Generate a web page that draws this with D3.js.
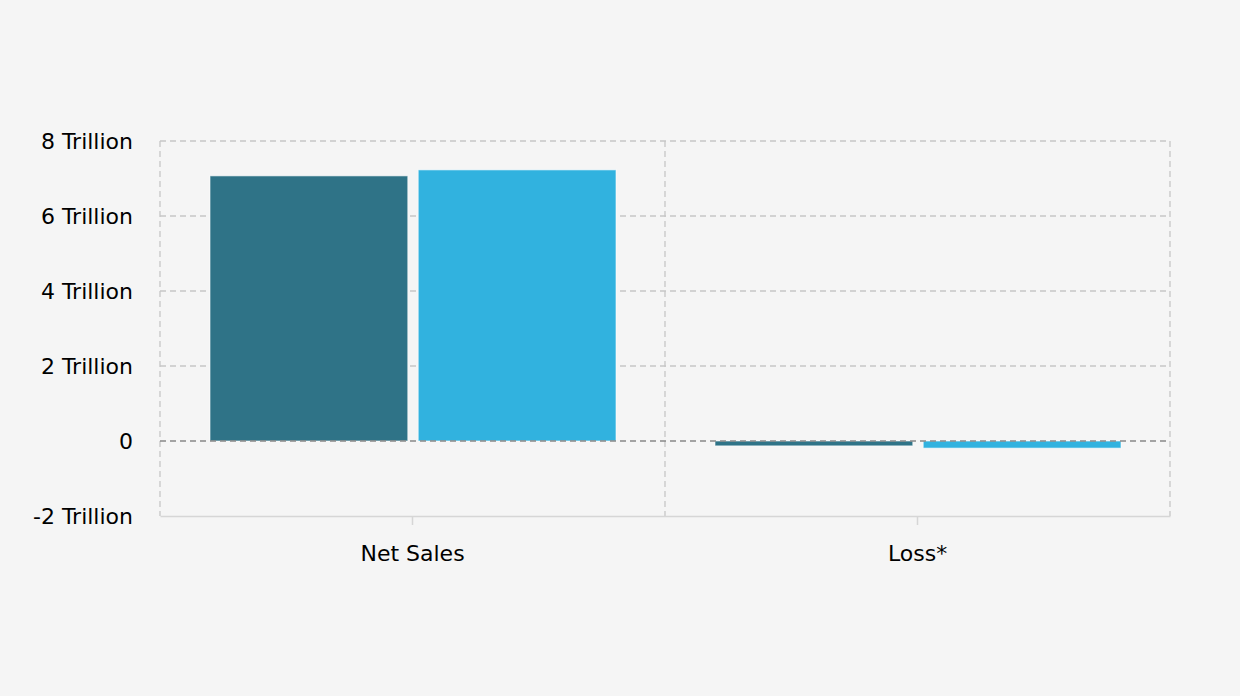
<!DOCTYPE html>
<html>
<head>
<meta charset="utf-8">
<script src="https://cdn.jsdelivr.net/npm/d3@7"></script>
<style>
  html, body { margin: 0; padding: 0; background: #f5f5f5; }
  svg { display: block; font-family: "DejaVu Sans", Verdana, sans-serif; }
</style>
</head>
<body>
<svg id="chart" width="1240" height="696"></svg>
<script>
// Data (values in trillions)
var categories = ['Net Sales', 'Loss*'];
var seriesNames = ['Previous', 'Current'];
var previousValues = [7.07, -0.13];
var currentValues = [7.23, -0.19];
var yTicks = [-2, 0, 2, 4, 6, 8];
var seriesColors = ['#2f7387', '#31b2df'];

var svg = d3.select('#chart');
var margin = { left: 160, right: 70, top: 141, bottom: 180 };
var width = 1240 - margin.left - margin.right;
var height = 696 - margin.top - margin.bottom;

var g = svg.append('g').attr('transform', 'translate(' + margin.left + ',' + margin.top + ')');

var x0 = d3.scaleBand().domain(categories).range([0, width]).padding(0);
var x1 = d3.scaleBand().domain(seriesNames).range([50, x0.bandwidth() - 49]).paddingInner(0.05);
var y = d3.scaleLinear().domain([-2, 8]).range([height, 0]);

function tickLabel(v) {
  return v === 0 ? '0' : v + ' Trillion';
}

// horizontal grid
g.append('g').selectAll('line').data(yTicks.filter(function(t) { return t !== -2 && t !== 0; }))
  .join('line')
  .attr('x1', 0).attr('x2', width)
  .attr('y1', function(d) { return y(d); }).attr('y2', function(d) { return y(d); })
  .attr('stroke', '#c6c6c6').attr('stroke-width', 1.3).attr('stroke-dasharray', '6,4');

// vertical grid at band edges
var edges = [0, x0.bandwidth(), width];
g.append('g').selectAll('line').data(edges).join('line')
  .attr('x1', function(d) { return d; }).attr('x2', function(d) { return d; })
  .attr('y1', 0).attr('y2', height)
  .attr('stroke', '#c6c6c6').attr('stroke-width', 1.3).attr('stroke-dasharray', '6,4');

// bars
var rows = categories.map(function(c, i) {
  return [
    { cat: c, key: seriesNames[0], value: previousValues[i], color: seriesColors[0] },
    { cat: c, key: seriesNames[1], value: currentValues[i], color: seriesColors[1] }
  ];
});

g.append('g').selectAll('g').data(rows).join('g')
  .attr('transform', function(d) { return 'translate(' + x0(d[0].cat) + ',0)'; })
  .selectAll('rect').data(function(d) { return d; }).join('rect')
  .attr('x', function(d) { return x1(d.key); })
  .attr('width', x1.bandwidth())
  .attr('y', function(d) { return y(Math.max(0, d.value)); })
  .attr('height', function(d) { return Math.abs(y(d.value) - y(0)); })
  .attr('fill', function(d) { return d.color; })
  .attr('stroke', 'rgba(255,255,255,0.6)')
  .attr('stroke-width', 1);

// zero line
g.append('line')
  .attr('x1', 0).attr('x2', width)
  .attr('y1', y(0)).attr('y2', y(0))
  .attr('stroke', '#888').attr('stroke-width', 1.4).attr('stroke-dasharray', '6,4');

// bottom axis
var xAxis = g.append('g').attr('transform', 'translate(0,' + height + ')')
  .call(d3.axisBottom(x0).tickSizeInner(9).tickSizeOuter(0).tickPadding(20));
xAxis.select('.domain').attr('stroke', '#d6d6d6').attr('stroke-width', 1.5);
xAxis.selectAll('.tick line').attr('stroke', '#d6d6d6').attr('stroke-width', 1.5);
xAxis.selectAll('text').attr('font-size', '22px').attr('fill', '#000')
  .attr('font-family', '"DejaVu Sans", Verdana, sans-serif');

// left axis labels
var yAxis = g.append('g')
  .call(d3.axisLeft(y).tickValues(yTicks).tickFormat(tickLabel).tickSize(0).tickPadding(27));
yAxis.select('.domain').remove();
yAxis.selectAll('text').attr('font-size', '22px').attr('fill', '#000')
  .attr('font-family', '"DejaVu Sans", Verdana, sans-serif');
</script>
</body>
</html>
